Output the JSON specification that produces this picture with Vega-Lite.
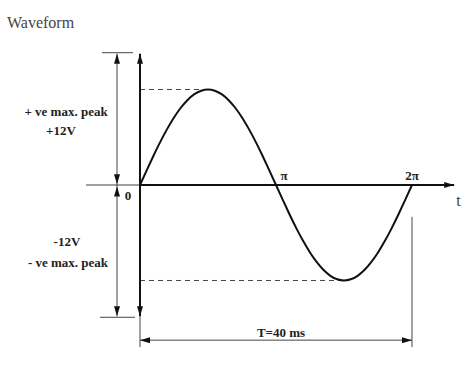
{
  "$schema": "https://vega.github.io/schema/vega-lite/v6.json",
  "width": 461,
  "height": 367,
  "autosize": {"type": "fit", "contains": "padding"},
  "padding": 0,
  "background": "white",
  "config": {"view": {"stroke": null}},
  "datasets": {
    "curve": [
      {"ms": 0, "V": 0}, {"ms": 1, "V": 1.877}, {"ms": 2, "V": 3.708}, {"ms": 3, "V": 5.448}, {"ms": 4, "V": 7.053},
      {"ms": 5, "V": 8.485}, {"ms": 6, "V": 9.708}, {"ms": 7, "V": 10.692}, {"ms": 8, "V": 11.413}, {"ms": 9, "V": 11.852},
      {"ms": 10, "V": 12}, {"ms": 11, "V": 11.852}, {"ms": 12, "V": 11.413}, {"ms": 13, "V": 10.692}, {"ms": 14, "V": 9.708},
      {"ms": 15, "V": 8.485}, {"ms": 16, "V": 7.053}, {"ms": 17, "V": 5.448}, {"ms": 18, "V": 3.708}, {"ms": 19, "V": 1.877},
      {"ms": 20, "V": 0}, {"ms": 21, "V": -1.877}, {"ms": 22, "V": -3.708}, {"ms": 23, "V": -5.448}, {"ms": 24, "V": -7.053},
      {"ms": 25, "V": -8.485}, {"ms": 26, "V": -9.708}, {"ms": 27, "V": -10.692}, {"ms": 28, "V": -11.413}, {"ms": 29, "V": -11.852},
      {"ms": 30, "V": -12}, {"ms": 31, "V": -11.852}, {"ms": 32, "V": -11.413}, {"ms": 33, "V": -10.692}, {"ms": 34, "V": -9.708},
      {"ms": 35, "V": -8.485}, {"ms": 36, "V": -7.053}, {"ms": 37, "V": -5.448}, {"ms": 38, "V": -3.708}, {"ms": 39, "V": -1.877},
      {"ms": 40, "V": 0}
    ],
    "lines": [
      {"group": "axis", "ms": 0, "V": 16.5, "ms2": 0, "V2": -16.5},
      {"group": "axis", "ms": 0, "V": 0, "ms2": 46.2, "V2": 0},
      {"group": "dimension", "ms": -3.38, "V": 16.5, "ms2": -3.38, "V2": -16.5},
      {"group": "dimension", "ms": -5.59, "V": 16.625, "ms2": -1.03, "V2": 16.625},
      {"group": "dimension", "ms": -7.94, "V": 0, "ms2": 0, "V2": 0},
      {"group": "dimension", "ms": -5.88, "V": -16.625, "ms2": -0.74, "V2": -16.625},
      {"group": "dimension", "ms": 0, "V": -16.5, "ms2": 0, "V2": -20.375},
      {"group": "dimension", "ms": 40, "V": -4, "ms2": 40, "V2": -20.375},
      {"group": "dimension", "ms": 0, "V": -19.5, "ms2": 40, "V2": -19.5},
      {"group": "peak", "ms": 0, "V": 12, "ms2": 10, "V2": 12},
      {"group": "peak", "ms": 0, "V": -12, "ms2": 30, "V2": -12}
    ],
    "arrows": [
      {"dir": "up", "ms": 0, "V": 16.5},
      {"dir": "down", "ms": 0, "V": -16.5},
      {"dir": "right", "ms": 46.2, "V": 0},
      {"dir": "up", "ms": -3.38, "V": 16.5},
      {"dir": "down", "ms": -3.38, "V": 0.1},
      {"dir": "up", "ms": -3.38, "V": -0.2},
      {"dir": "down", "ms": -3.38, "V": -16.5},
      {"dir": "left", "ms": 0, "V": -19.5},
      {"dir": "right", "ms": 40, "V": -19.5}
    ],
    "labels": [
      {"text": "+ ve  max. peak", "ms": -10.88, "V": 9.125},
      {"text": "+12V", "ms": -11.62, "V": 6.75},
      {"text": "-12V", "ms": -10.74, "V": -7.125},
      {"text": "-  ve  max. peak", "ms": -10.59, "V": -9.75},
      {"text": "0", "ms": -1.76, "V": -1.375},
      {"text": "π", "ms": 21.18, "V": 1.125},
      {"text": "2π", "ms": 40, "V": 1.125},
      {"text": "T=40 ms", "ms": 20.74, "V": -18.625}
    ],
    "titles": [
      {"text": "Waveform", "ms": -19.56, "V": 20.375},
      {"text": "t", "ms": 46.5, "V": -2}
    ]
  },
  "encoding": {
    "x": {"field": "ms", "type": "quantitative", "axis": null, "scale": {"domain": [-20.588, 47.206], "nice": false, "zero": false}},
    "y": {"field": "V", "type": "quantitative", "axis": null, "scale": {"domain": [-22.875, 23.25], "nice": false, "zero": false}}
  },
  "layer": [
    {
      "data": {"name": "lines"},
      "transform": [{"filter": "datum.group == 'dimension'"}],
      "mark": {"type": "rule", "color": "#444", "strokeWidth": 1},
      "encoding": {"x2": {"field": "ms2"}, "y2": {"field": "V2"}}
    },
    {
      "data": {"name": "lines"},
      "transform": [{"filter": "datum.group == 'peak'"}],
      "mark": {"type": "rule", "color": "#444", "strokeWidth": 1, "strokeDash": [5, 4]},
      "encoding": {"x2": {"field": "ms2"}, "y2": {"field": "V2"}}
    },
    {
      "data": {"name": "lines"},
      "transform": [{"filter": "datum.group == 'axis'"}],
      "mark": {"type": "rule", "color": "#111", "strokeWidth": 2},
      "encoding": {"x2": {"field": "ms2"}, "y2": {"field": "V2"}}
    },
    {
      "data": {"name": "curve"},
      "mark": {"type": "line", "color": "#111", "strokeWidth": 2, "interpolate": "natural"}
    },
    {
      "data": {"name": "arrows"},
      "transform": [{"filter": "datum.dir == 'up'"}],
      "mark": {"type": "point", "shape": "M0,0L-0.3,1L0.3,1Z", "filled": true, "color": "#111", "opacity": 1, "size": 400, "angle": 0}
    },
    {
      "data": {"name": "arrows"},
      "transform": [{"filter": "datum.dir == 'down'"}],
      "mark": {"type": "point", "shape": "M0,0L-0.3,1L0.3,1Z", "filled": true, "color": "#111", "opacity": 1, "size": 400, "angle": 180}
    },
    {
      "data": {"name": "arrows"},
      "transform": [{"filter": "datum.dir == 'right'"}],
      "mark": {"type": "point", "shape": "M0,0L-0.3,1L0.3,1Z", "filled": true, "color": "#111", "opacity": 1, "size": 400, "angle": 90}
    },
    {
      "data": {"name": "arrows"},
      "transform": [{"filter": "datum.dir == 'left'"}],
      "mark": {"type": "point", "shape": "M0,0L-0.3,1L0.3,1Z", "filled": true, "color": "#111", "opacity": 1, "size": 400, "angle": 270}
    },
    {
      "data": {"name": "labels"},
      "mark": {"type": "text", "font": "Liberation Serif", "fontSize": 13, "fontWeight": "bold", "color": "#222", "align": "center", "baseline": "middle"},
      "encoding": {"text": {"field": "text"}}
    },
    {
      "data": {"name": "titles"},
      "mark": {"type": "text", "font": "Liberation Serif", "fontSize": 16, "color": "#444", "align": "left", "baseline": "middle"},
      "encoding": {"text": {"field": "text"}}
    }
  ]
}
